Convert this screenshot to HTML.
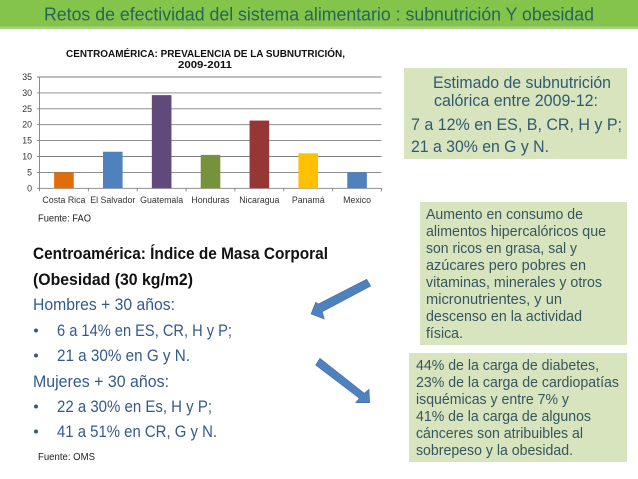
<!DOCTYPE html>
<html lang="es">
<head>
<meta charset="utf-8">
<title>Retos de efectividad del sistema alimentario</title>
<style>
html,body{margin:0;padding:0;background:#fff;width:638px;height:479px;overflow:hidden}
svg{display:block;font-family:"Liberation Sans",sans-serif}
.band-t{font-size:18.5px;fill:#27655a}
.box-lg{font-size:17px;fill:#2f5a70}
.box-md{font-size:14.5px;fill:#35565f}
.left{font-size:16.5px;fill:#34598c}
.left-b{font-size:16.5px;font-weight:bold;fill:#111}
.src{font-size:10.5px;fill:#222}
.ct{font-size:10.5px;font-weight:bold;fill:#111}
.tick{font-size:8.8px;fill:#333}
</style>
</head>
<body>
<svg id="slide" xmlns="http://www.w3.org/2000/svg" width="638" height="479" viewBox="0 0 638 479">
  <rect x="0" y="25" width="638" height="4" fill="#a9cf83"/>
  <rect x="0" y="0" width="638" height="26.5" fill="#85c44a"/>
  <text class="band-t" x="44" y="20.5" textLength="550" lengthAdjust="spacingAndGlyphs">Retos de efectividad del sistema alimentario : subnutrición Y obesidad</text>

  <g id="chart">
    <text class="ct" x="66" y="57" textLength="279" lengthAdjust="spacingAndGlyphs">CENTROAMÉRICA: PREVALENCIA DE LA SUBNUTRICIÓN,</text>
    <text class="ct" x="178" y="68" textLength="54" lengthAdjust="spacingAndGlyphs">2009-2011</text>
  </g>
  <text class="src" x="38" y="221.5" font-size="11" textLength="53" lengthAdjust="spacingAndGlyphs">Fuente: FAO</text>

  <rect x="404" y="68" width="223" height="91" fill="#d7e4bd"/>
  <text class="box-lg" x="433" y="88" textLength="178" lengthAdjust="spacingAndGlyphs">Estimado de subnutrición</text>
  <text class="box-lg" x="434" y="106" textLength="164" lengthAdjust="spacingAndGlyphs">calórica entre 2009-12:</text>
  <text class="box-lg" x="411" y="130" textLength="211" lengthAdjust="spacingAndGlyphs">7 a 12% en ES, B, CR, H y P;</text>
  <text class="box-lg" x="411" y="152" textLength="138" lengthAdjust="spacingAndGlyphs">21 a 30% en G y N.</text>

  <rect x="420" y="202" width="207" height="143" fill="#d7e4bd"/>
  <text class="box-md" x="426" y="219" textLength="157" lengthAdjust="spacingAndGlyphs">Aumento en consumo de</text>
  <text class="box-md" x="426" y="236" textLength="180" lengthAdjust="spacingAndGlyphs">alimentos hipercalóricos que</text>
  <text class="box-md" x="426" y="253" textLength="151" lengthAdjust="spacingAndGlyphs">son ricos en grasa, sal y</text>
  <text class="box-md" x="426" y="270" textLength="160" lengthAdjust="spacingAndGlyphs">azúcares pero pobres en</text>
  <text class="box-md" x="426" y="287" textLength="176" lengthAdjust="spacingAndGlyphs">vitaminas, minerales y otros</text>
  <text class="box-md" x="426" y="304" textLength="136" lengthAdjust="spacingAndGlyphs">micronutrientes, y  un</text>
  <text class="box-md" x="426" y="321" textLength="156" lengthAdjust="spacingAndGlyphs">descenso en la actividad</text>
  <text class="box-md" x="426" y="338" textLength="37" lengthAdjust="spacingAndGlyphs">física.</text>

  <rect x="409" y="353" width="218" height="109" fill="#d7e4bd"/>
  <text class="box-md" x="416" y="370" textLength="183" lengthAdjust="spacingAndGlyphs">44% de la carga de diabetes,</text>
  <text class="box-md" x="416" y="387" textLength="203" lengthAdjust="spacingAndGlyphs">23% de la carga de cardiopatías</text>
  <text class="box-md" x="416" y="404" textLength="153" lengthAdjust="spacingAndGlyphs">isquémicas y entre 7% y</text>
  <text class="box-md" x="416" y="421" textLength="175" lengthAdjust="spacingAndGlyphs">41% de la carga de algunos</text>
  <text class="box-md" x="416" y="438" textLength="167" lengthAdjust="spacingAndGlyphs">cánceres son atribuibles al</text>
  <text class="box-md" x="416" y="455" textLength="157" lengthAdjust="spacingAndGlyphs">sobrepeso y la obesidad.</text>

  <text class="left-b" x="33" y="259" textLength="295" lengthAdjust="spacingAndGlyphs">Centroamérica: Índice de Masa Corporal</text>
  <text class="left-b" x="33" y="285" textLength="160" lengthAdjust="spacingAndGlyphs">(Obesidad (30 kg/m2)</text>
  <text class="left" x="33" y="310" textLength="142" lengthAdjust="spacingAndGlyphs">Hombres + 30 años:</text>
  <circle cx="36" cy="330.5" r="2" fill="#34598c"/>
  <text class="left" x="57" y="336" textLength="175" lengthAdjust="spacingAndGlyphs">6 a 14% en ES, CR, H y P;</text>
  <circle cx="36" cy="355.5" r="2" fill="#34598c"/>
  <text class="left" x="57" y="361" textLength="133" lengthAdjust="spacingAndGlyphs">21 a 30% en G y N.</text>
  <text class="left" x="33" y="387" textLength="136" lengthAdjust="spacingAndGlyphs">Mujeres + 30 años:</text>
  <circle cx="36" cy="406.5" r="2" fill="#34598c"/>
  <text class="left" x="57" y="412" textLength="155" lengthAdjust="spacingAndGlyphs">22 a 30% en Es, H y P;</text>
  <circle cx="36" cy="431.5" r="2" fill="#34598c"/>
  <text class="left" x="57" y="437" textLength="160" lengthAdjust="spacingAndGlyphs">41 a 51% en CR, G y N.</text>
  <text class="src" x="38" y="460" font-size="10" textLength="57" lengthAdjust="spacingAndGlyphs">Fuente: OMS</text>

  <polygon points="366.7,279.3 370.7,286 322.3,311.7 324.3,319 311,314 315.7,302.3 318.3,304" fill="#4f81bd" stroke="#3f6ea8" stroke-width="0.6"/>
  <polygon points="320,358.3 364.3,393.3 369,389.3 369.7,402.7 355.7,402.7 359.3,398.3 315.7,365" fill="#4f81bd" stroke="#3f6ea8" stroke-width="0.6"/>
</svg>
<script>
var categories = ["Costa Rica", "El Salvador", "Guatemala", "Honduras", "Nicaragua", "Panamá", "Mexico"];
var prevalence = [5, 11.5, 29.3, 10.5, 21.3, 11, 5];
var barColors = ["#e36c0a", "#4f81bd", "#604a7b", "#76923c", "#953735", "#ffc000", "#4f81bd"];
var yTicks = [0, 5, 10, 15, 20, 25, 30, 35];

var NS = "http://www.w3.org/2000/svg";
var chart = document.getElementById("chart");
var plot = {left: 39.5, right: 381.5, top: 77, bottom: 188.3, yMax: 35};
function yScale(v) {
  return plot.bottom - (v / plot.yMax) * (plot.bottom - plot.top);
}
function xBand() {
  return (plot.right - plot.left) / categories.length;
}
function xCenter(i) {
  return plot.left + xBand() * (i + 0.5);
}
function make(tag) {
  return document.createElementNS(NS, tag);
}
function setLine(el, x1, y1, x2, y2) {
  el.setAttribute("x1", x1);
  el.setAttribute("y1", y1);
  el.setAttribute("x2", x2);
  el.setAttribute("y2", y2);
  el.setAttribute("stroke", "#7f7f7f");
  el.setAttribute("stroke-width", "0.9");
}

yTicks.forEach(function (t) {
  var y = yScale(t);
  var grid = make("line");
  
  
  setLine(grid, plot.left - 2.5, y, plot.right, y);
  chart.appendChild(grid);
  var label = make("text");
  
  
  label.setAttribute("class", "tick");
  label.setAttribute("x", 32);
  label.setAttribute("y", y + 3);
  label.setAttribute("text-anchor", "end");
  label.textContent = t;
  chart.appendChild(label);
});

var yAxis = make("line");


setLine(yAxis, plot.left, plot.top, plot.left, plot.bottom);
chart.appendChild(yAxis);

for (var k = 0; k <= categories.length; k++) {
  var tx = plot.left + xBand() * k;
  var tickMark = make("line");
  
  
  setLine(tickMark, tx, plot.bottom, tx, plot.bottom + 3);
  chart.appendChild(tickMark);
}

categories.forEach(function (c, i) {
  var bar = make("rect");
  
  
  var y = yScale(prevalence[i]);
  bar.setAttribute("x", xCenter(i) - 9.8);
  bar.setAttribute("y", y);
  bar.setAttribute("width", 19.6);
  bar.setAttribute("height", plot.bottom - y);
  bar.setAttribute("fill", barColors[i]);
  chart.appendChild(bar);
  var label = make("text");
  
  
  label.setAttribute("class", "tick");
  label.setAttribute("x", xCenter(i));
  label.setAttribute("y", 203);
  label.setAttribute("text-anchor", "middle");
  label.textContent = c;
  chart.appendChild(label);
});
</script>
</body>
</html>
